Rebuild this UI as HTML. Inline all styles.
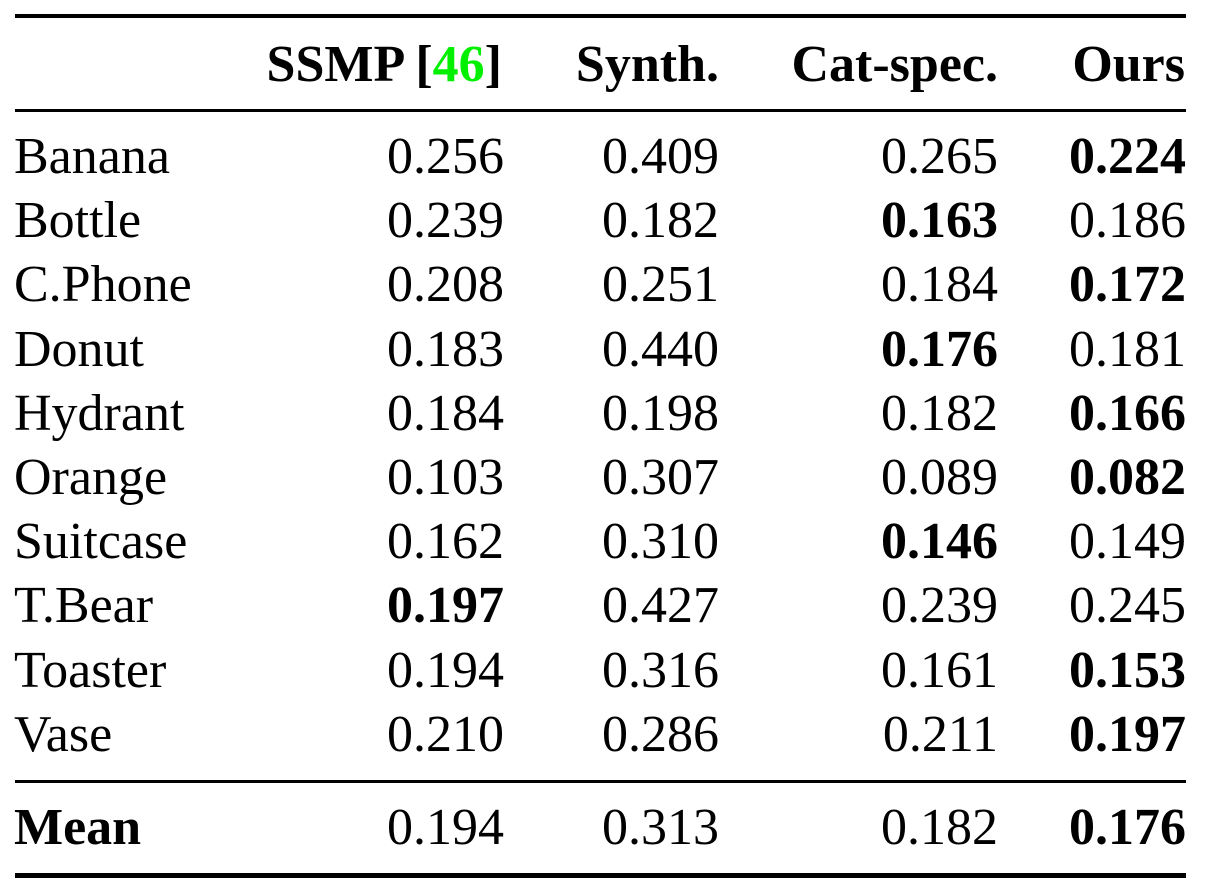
<!DOCTYPE html>
<html>
<head>
<meta charset="utf-8">
<style>
html,body{margin:0;padding:0;background:#fff;}
body{width:1206px;height:896px;position:relative;overflow:hidden;font-family:"Liberation Serif","Times New Roman",serif;color:#000;}
.rule{position:absolute;left:15px;width:1171px;background:#000;}
.r{position:absolute;left:0;width:1206px;height:52px;line-height:52px;font-size:52px;}
.c{position:absolute;top:0;white-space:nowrap;}
.l{left:14px;}
.c1{right:702px;}
.c2{right:487px;}
.c3{right:208px;}
.c4{right:20px;}
b{font-weight:bold;}
.g{color:#00f000;}
</style>
</head>
<body>
<div class="rule" style="top:14px;height:4px;"></div>
<div class="rule" style="top:109px;height:3px;"></div>
<div class="rule" style="top:780px;height:3px;"></div>
<div class="rule" style="top:873px;height:5px;"></div>

<div class="r" style="top:39px;font-weight:bold;">
  <span class="c" style="right:704px;">SSMP [<span class="g">46</span>]</span>
  <span class="c" style="right:487px;">Synth.</span>
  <span class="c" style="right:208px;">Cat-spec.</span>
  <span class="c" style="right:21px;">Ours</span>
</div>

<div class="r" style="top:131px;"><span class="c l">Banana</span><span class="c c1">0.256</span><span class="c c2">0.409</span><span class="c c3">0.265</span><span class="c c4"><b>0.224</b></span></div>
<div class="r" style="top:195.2px;"><span class="c l">Bottle</span><span class="c c1">0.239</span><span class="c c2">0.182</span><span class="c c3"><b>0.163</b></span><span class="c c4">0.186</span></div>
<div class="r" style="top:259.4px;"><span class="c l">C.Phone</span><span class="c c1">0.208</span><span class="c c2">0.251</span><span class="c c3">0.184</span><span class="c c4"><b>0.172</b></span></div>
<div class="r" style="top:323.6px;"><span class="c l">Donut</span><span class="c c1">0.183</span><span class="c c2">0.440</span><span class="c c3"><b>0.176</b></span><span class="c c4">0.181</span></div>
<div class="r" style="top:387.8px;"><span class="c l">Hydrant</span><span class="c c1">0.184</span><span class="c c2">0.198</span><span class="c c3">0.182</span><span class="c c4"><b>0.166</b></span></div>
<div class="r" style="top:452px;"><span class="c l">Orange</span><span class="c c1">0.103</span><span class="c c2">0.307</span><span class="c c3">0.089</span><span class="c c4"><b>0.082</b></span></div>
<div class="r" style="top:516.2px;"><span class="c l">Suitcase</span><span class="c c1">0.162</span><span class="c c2">0.310</span><span class="c c3"><b>0.146</b></span><span class="c c4">0.149</span></div>
<div class="r" style="top:580.4px;"><span class="c l">T.Bear</span><span class="c c1"><b>0.197</b></span><span class="c c2">0.427</span><span class="c c3">0.239</span><span class="c c4">0.245</span></div>
<div class="r" style="top:644.6px;"><span class="c l">Toaster</span><span class="c c1">0.194</span><span class="c c2">0.316</span><span class="c c3">0.161</span><span class="c c4"><b>0.153</b></span></div>
<div class="r" style="top:708.8px;"><span class="c l">Vase</span><span class="c c1">0.210</span><span class="c c2">0.286</span><span class="c c3">0.211</span><span class="c c4"><b>0.197</b></span></div>

<div class="r" style="top:802px;"><span class="c l"><b>Mean</b></span><span class="c c1">0.194</span><span class="c c2">0.313</span><span class="c c3">0.182</span><span class="c c4"><b>0.176</b></span></div>
</body>
</html>
